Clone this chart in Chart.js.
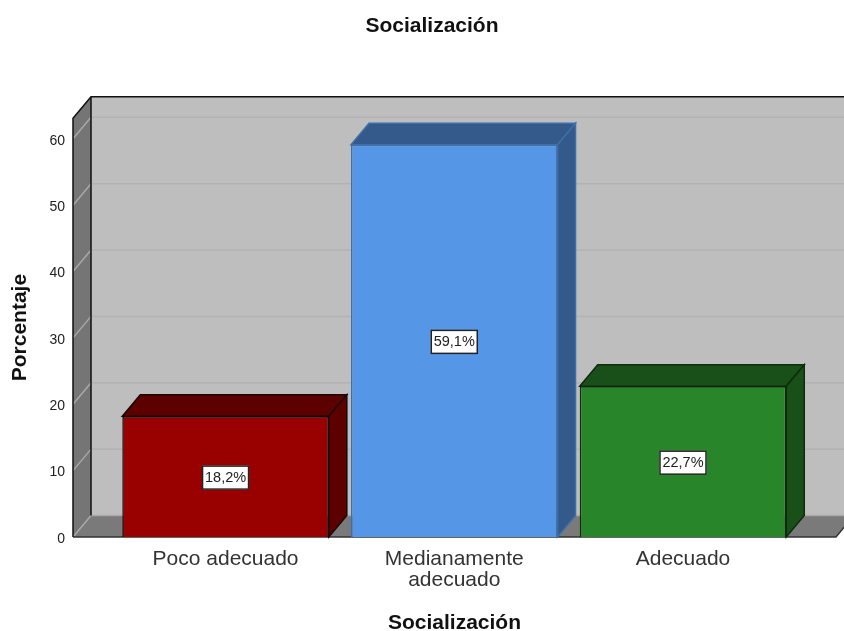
<!DOCTYPE html>
<html><head><meta charset="utf-8">
<script src="https://cdn.jsdelivr.net/npm/chart.js@4"></script>
<style>html,body{margin:0;padding:0;background:#fff}#w{width:844px;height:631px}</style>
</head><body><div id="w"><canvas id="c" width="844" height="631"></canvas></div>
<script>
const categories = ["Poco adecuado", "Medianamente adecuado", "Adecuado"];
const tickLabels = [["Poco adecuado"], ["Medianamente", "adecuado"], ["Adecuado"]];
const percentages = [18.2, 59.1, 22.7];
const frontColors = ["#990000", "#5596e6", "#298529"];
const depthColors = ["#5c0000", "#335a8a", "#195019"];
const edgeColors = ["#1a0808", "#3f6fa8", "#0f2a0f"];
const DX = 18, DY = 21.5;
const FONT = "Liberation Sans, Arial, sans-serif";

function poly(ctx, pts, fill, stroke, lw) {
  ctx.beginPath();
  pts.forEach((p, i) => i ? ctx.lineTo(p[0], p[1]) : ctx.moveTo(p[0], p[1]));
  ctx.closePath();
  if (fill) { ctx.fillStyle = fill; ctx.fill(); }
  if (stroke) { ctx.strokeStyle = stroke; ctx.lineWidth = lw || 1; ctx.stroke(); }
}

const box3d = {
  id: "box3d",
  afterLayout(chart) {
    const t = chart.titleBlock;
    const shift = 432 - (t.left + t.right) / 2;
    t.left += shift; t.right += shift;
  },
  beforeDatasetsDraw(chart) {
    const { ctx, chartArea: a, scales: { y } } = chart;
    const l = a.left, r = a.right, t = a.top, b = a.bottom;
    ctx.save();
    poly(ctx, [[l + DX, t - DY], [r + DX, t - DY], [r + DX, b - DY], [l + DX, b - DY]], "#bebebe");
    poly(ctx, [[l, b], [l + DX, b - DY], [r + DX, b - DY], [r, b]], "#7a7a7a");
    poly(ctx, [[l, t], [l + DX, t - DY], [l + DX, b - DY], [l, b]], "#757575");
    y.ticks.forEach(tk => {
      if (tk.value === 0) return;
      const py = y.getPixelForValue(tk.value);
      ctx.lineWidth = 1.5;
      ctx.strokeStyle = "#a8a8a8";
      ctx.beginPath(); ctx.moveTo(l, py); ctx.lineTo(l + DX, py - DY); ctx.stroke();
      ctx.strokeStyle = "#b2b2b2";
      ctx.beginPath(); ctx.moveTo(l + DX, py - DY); ctx.lineTo(r + DX, py - DY); ctx.stroke();
    });
    ctx.lineWidth = 1.5;
    ctx.strokeStyle = "#a9a9a9";
    ctx.beginPath(); ctx.moveTo(l, b); ctx.lineTo(l + DX, b - DY); ctx.lineTo(r + DX, b - DY); ctx.stroke();
    ctx.strokeStyle = "#111";
    ctx.beginPath();
    ctx.moveTo(l, b); ctx.lineTo(l, t); ctx.lineTo(l + DX, t - DY); ctx.lineTo(r + DX, t - DY);
    ctx.moveTo(l + DX, t - DY); ctx.lineTo(l + DX, b - DY);
    ctx.stroke();
    ctx.strokeStyle = "#333";
    ctx.beginPath(); ctx.moveTo(l, b); ctx.lineTo(r, b); ctx.lineTo(r + DX, b - DY); ctx.stroke();
    chart.getDatasetMeta(0).data.forEach((bar, i) => {
      const x0 = bar.x - bar.width / 2, x1 = bar.x + bar.width / 2, top = bar.y, base = bar.base;
      const e = edgeColors[i];
      poly(ctx, [[x0, top], [x0 + DX, top - DY], [x1 + DX, top - DY], [x1, top]], depthColors[i], e, 1.5);
      poly(ctx, [[x1, top], [x1 + DX, top - DY], [x1 + DX, base - DY], [x1, base]], depthColors[i], e, 1.5);
    });
    ctx.restore();
  },
  afterDatasetsDraw(chart) {
    const { ctx } = chart;
    ctx.save();
    ctx.font = "14.5px " + FONT;
    ctx.textAlign = "center"; ctx.textBaseline = "middle";
    chart.getDatasetMeta(0).data.forEach((bar, i) => {
      const txt = percentages[i].toFixed(1).replace(".", ",") + "%";
      const cy = (bar.y + bar.base) / 2 + 1, w = 47, h = 24;
      ctx.fillStyle = "#fff"; ctx.fillRect(bar.x - w / 2, cy - h / 2, w, h);
      ctx.strokeStyle = "#222"; ctx.lineWidth = 1.5; ctx.strokeRect(bar.x - w / 2 + .5, cy - h / 2 + .5, w - 1, h - 1);
      ctx.fillStyle = "#222"; ctx.fillText(txt, bar.x, cy + 0.5);
    });
    ctx.restore();
  }
};

new Chart(document.getElementById("c"), {
  type: "bar",
  plugins: [box3d],
  data: {
    labels: categories,
    datasets: [{
      label: "Socialización",
      data: percentages.map((y, x) => ({ x, y })),
      backgroundColor: frontColors,
      borderColor: edgeColors,
      borderWidth: 1.5,
      categoryPercentage: 1,
      barPercentage: 0.903
    }]
  },
  options: {
    responsive: false,
    animation: false,
    layout: { padding: { right: 8, left: 0, top: 0, bottom: 0 } },
    plugins: {
      legend: { display: false },
      tooltip: { enabled: false },
      title: {
        display: true, text: "Socialización", color: "#111",
        font: { family: FONT, size: 21, weight: "bold", lineHeight: 1.2 },
        padding: { top: 13.5, bottom: 79.5 }
      }
    },
    scales: {
      x: {
        type: "linear", min: -0.667, max: 2.669, offset: false,
        afterBuildTicks(s) { s.ticks = categories.map((c, i) => ({ value: i })); },
        afterFit(s) { s.height = 94; },
        grid: { display: false, drawTicks: false },
        border: { display: false },
        ticks: {
          autoSkip: false, maxRotation: 0, minRotation: 0, padding: 12,
          color: "#333",
          font: { family: FONT, size: 21, lineHeight: 1 },
          callback: v => tickLabels[v]
        },
        title: {
          display: true, text: "Socialización", color: "#111",
          font: { family: FONT, size: 21, weight: "bold", lineHeight: 1.2 },
          padding: { top: 0, bottom: -5 }
        }
      },
      y: {
        min: 0, max: 63.1,
        afterBuildTicks(s) { s.ticks = s.ticks.filter(t => t.value % 10 === 0); },
        afterFit(s) { s.width = 73; },
        grid: { display: false, drawTicks: false },
        border: { display: false },
        ticks: { stepSize: 10, padding: 8, labelOffset: 2, color: "#222", font: { family: FONT, size: 14 } },
        title: {
          display: true, text: "Porcentaje", color: "#111",
          font: { family: FONT, size: 21, weight: "bold", lineHeight: 1.2 },
          padding: { top: 8, bottom: 0 }
        }
      }
    }
  }
});
</script></body></html>
